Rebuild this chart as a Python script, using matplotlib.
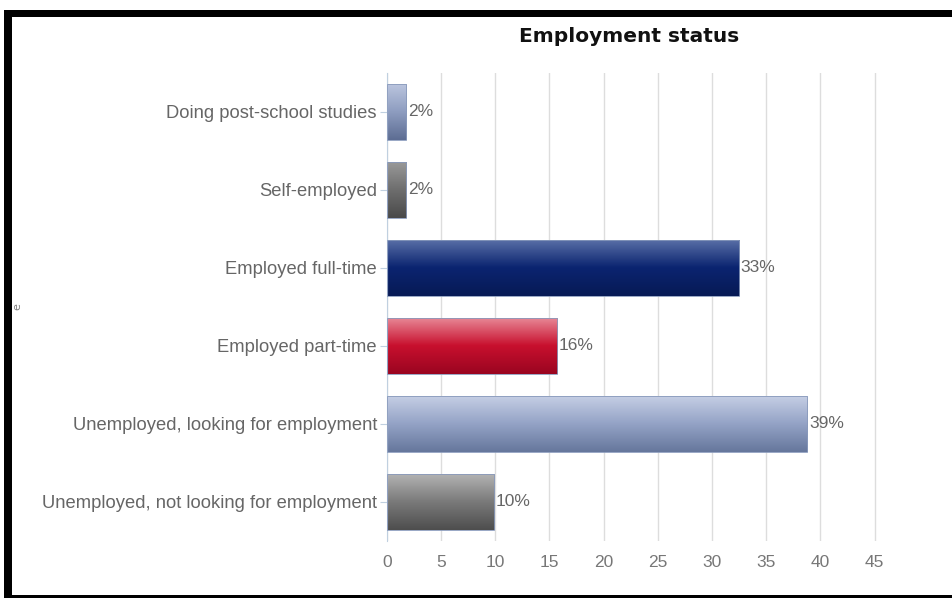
import matplotlib.pyplot as plt
import matplotlib.colors as mcolors
import numpy as np

categories = ["Doing post-school studies", "Self-employed", "Employed full-time",
              "Employed part-time", "Unemployed, looking for employment",
              "Unemployed, not looking for employment"]
values = [1.8, 1.8, 32.5, 15.7, 38.8, 9.9]
labels = ["2%", "2%", "33%", "16%", "39%", "10%"]
# gradient colours per bar (top, middle, bottom)
grads = [
    ["#bcc6df", "#8e9dc0", "#5d6d93"],
    ["#9a9a9a", "#6e6e6e", "#4a4a4a"],
    ["#5a70a8", "#0b2470", "#071a55"],
    ["#e88a98", "#c8102e", "#9a0520"],
    ["#c6cfe5", "#94a3c6", "#66779c"],
    ["#b4b4b4", "#7a7a7a", "#4e4e4e"],
]

W, H = 952, 598
fig = plt.figure(figsize=(W / 100, H / 100), dpi=100)
ax = fig.add_axes([386.7 / W, 57 / H, 515 / W, 468 / H])

y = np.arange(len(categories))
bars = ax.barh(y, values, height=0.72, color="none", edgecolor="#8899bb", linewidth=0.6, zorder=3)

for b, g in zip(bars, grads):
    cmap = mcolors.LinearSegmentedColormap.from_list("g", g)
    x0, y0 = b.get_x(), b.get_y()
    w, h = b.get_width(), b.get_height()
    grad = np.linspace(0, 1, 100).reshape(-1, 1)
    im = ax.imshow(grad, cmap=cmap, aspect="auto", extent=(x0, x0 + w, y0 + h, y0),
                   origin="upper", zorder=2)
    im.set_clip_path(b)

for v, lab, yy in zip(values, labels, y):
    ax.text(v + 0.15, yy - 0.01, lab, va="center", ha="left", fontsize=12.5,
            color="#666666", family="Liberation Sans", zorder=4)

ax.set_xlim(0, 47.5)
ax.set_ylim(len(categories) - 0.5, -0.5)
ax.set_xticks(range(0, 50, 5))
ax.set_yticks(y)
ax.set_yticklabels(categories)
ax.grid(axis="x", color="#dddddd", linewidth=1, zorder=0)
ax.set_axisbelow(True)
for s in ["top", "right", "bottom"]:
    ax.spines[s].set_visible(False)
ax.spines["left"].set_color("#c0d0e0")
ax.tick_params(axis="y", length=5, color="#c0d0e0", pad=2)
ax.tick_params(axis="x", length=0, pad=10)
for t in ax.get_yticklabels():
    t.set_fontfamily("Liberation Sans")
    t.set_fontsize(13.2)
    t.set_color("#666666")
for t in ax.get_xticklabels():
    t.set_fontfamily("Liberation Sans")
    t.set_fontsize(12.5)
    t.set_color("#777777")

fig.text(629 / W, 1 - 36 / H, "Employment status", ha="center", va="center",
         fontsize=14.5, fontweight="bold", color="#111111")
fig.text(17 / W, 1 - 307 / H, "e", ha="center", va="center", fontsize=8,
         color="#808080", rotation=90)

# black frame of the screenshot (top, left, bottom)
for (x0, y0, w, h) in [(4, 10, W - 4, 7), (4, 10, 8, H - 10), (4, H - 3, W - 4, 3)]:
    fig.add_artist(plt.Rectangle((x0 / W, 1 - (y0 + h) / H), w / W, h / H,
                                 transform=fig.transFigure, color="black", lw=0))

fig.savefig("out.png", dpi=100)
